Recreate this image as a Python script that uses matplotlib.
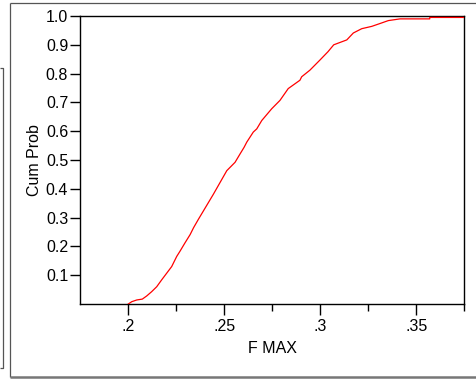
import matplotlib
matplotlib.use("Agg")
import matplotlib.pyplot as plt
from matplotlib.lines import Line2D
from matplotlib.ticker import FixedLocator

plt.rcParams['font.family'] = ['Liberation Sans', 'DejaVu Sans']

# Values (F MAX vs cumulative probability)
fmax = [0.2000, 0.2018, 0.2044, 0.2073, 0.2096, 0.2122, 0.2148, 0.2174, 0.2200,
        0.2226, 0.2252, 0.2269, 0.2295, 0.2322, 0.2340, 0.2365, 0.2391, 0.2443,
        0.2478, 0.2513, 0.2556, 0.2582, 0.2603, 0.2617, 0.2651, 0.2669, 0.2695,
        0.2747, 0.2790, 0.2833, 0.2894, 0.2903, 0.2946, 0.2998, 0.3040, 0.3070,
        0.3138, 0.3172, 0.3216, 0.3268, 0.3320, 0.3354, 0.3415, 0.3570, 0.3570,
        0.3710, 0.3710, 0.3750]
cumprob = [0.000, 0.008, 0.014, 0.017, 0.028, 0.043, 0.060, 0.084, 0.107,
           0.130, 0.165, 0.183, 0.212, 0.241, 0.265, 0.294, 0.323, 0.381,
           0.422, 0.463, 0.492, 0.521, 0.544, 0.562, 0.597, 0.608, 0.637,
           0.678, 0.707, 0.748, 0.777, 0.789, 0.812, 0.847, 0.876, 0.900,
           0.917, 0.941, 0.956, 0.964, 0.976, 0.984, 0.990, 0.990, 0.995,
           0.995, 0.995, 0.995]

x_major = [0.2, 0.25, 0.3, 0.35]
x_major_labels = ['.2', '.25', '.3', '.35']
x_minor = [0.225, 0.275, 0.325, 0.375]
y_ticks = [0.1, 0.2, 0.3, 0.4, 0.5, 0.6, 0.7, 0.8, 0.9, 1.0]
y_labels = ['0.1', '0.2', '0.3', '0.4', '0.5', '0.6', '0.7', '0.8', '0.9', '1.0']

W, H = 477, 379
fig = plt.figure(figsize=(W / 100, H / 100), dpi=100)
fig.patch.set_facecolor('white')

L, R, T, B = 80.3, 464.3, 16, 304
ax = fig.add_axes([L / W, 1 - B / H, (R - L) / W, (B - T) / H])

ax.plot(fmax, cumprob, color='#ff0000', lw=0.9, zorder=3)

ax.set_xlim(0.175, 0.375)
ax.set_ylim(0, 1.0)

ax.xaxis.set_major_locator(FixedLocator(x_major))
ax.set_xticklabels(x_major_labels)
ax.xaxis.set_minor_locator(FixedLocator(x_minor))
ax.yaxis.set_major_locator(FixedLocator(y_ticks))
ax.set_yticklabels(y_labels)

FS = 11.5
ax.tick_params(axis='x', which='major', direction='out', length=8, width=1,
               labelsize=FS, pad=3, color='black')
ax.tick_params(axis='x', which='minor', direction='out', length=5, width=1,
               color='black')
ax.tick_params(axis='y', which='major', direction='out', length=7.2, width=1,
               labelsize=FS, pad=1.5, color='black')

for s in ax.spines.values():
    s.set_linewidth(1)
    s.set_color('black')
    s.set_zorder(2)

ax.set_xlabel('F MAX', fontsize=FS, labelpad=5)
ax.set_ylabel('Cum Prob', fontsize=FS, labelpad=3)


def px_line(xs, ys, color, lw):
    fig.add_artist(Line2D([x / W for x in xs], [1 - y / H for y in ys],
                          transform=fig.transFigure, color=color, lw=lw,
                          solid_capstyle='butt'))


# outer frame
px_line([10, 10], [3, 377], '#555555', 0.9)
px_line([10, 477], [3, 3], '#555555', 0.9)
px_line([10, 477], [376.5, 376.5], '#777777', 1.8)
# left bracket
px_line([0, 3, 3, 0], [68, 68, 368, 368], '#555555', 0.9)

fig.savefig('out.png', dpi=100)
